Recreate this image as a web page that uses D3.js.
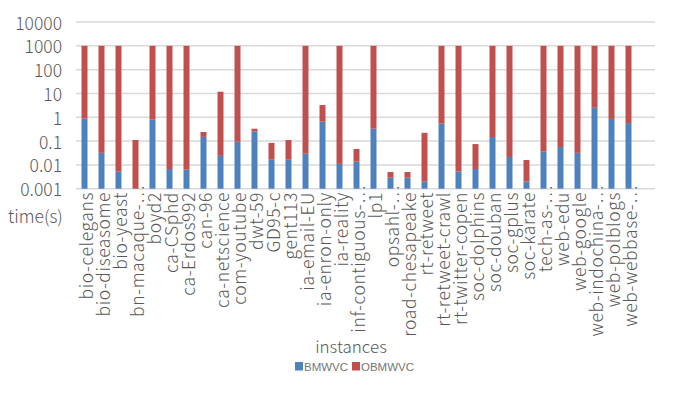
<!DOCTYPE html>
<html><head><meta charset="utf-8">
<script src="https://cdn.jsdelivr.net/npm/d3@7"></script>
<style>body{margin:0;background:#fff}svg{display:block}text{font-family:"Noto Sans CJK SC","Noto Sans",sans-serif;font-weight:300}</style>
</head><body><svg id="c" width="678" height="396"></svg>
<script>
const categories = ["bio-celegans","bio-diseasome","bio-yeast","bn-macaque-…","boyd2","ca-CSphd","ca-Erdos992","can-96","ca-netscience","com-youtube","dwt-59","GD95-c","gent113","ia-email-EU","ia-enron-only","ia-reality","inf-contiguous-…","lp1","opsahl-…","road-chesapeake","rt-retweet","rt-retweet-crawl","rt-twitter-copen","soc-dolphins","soc-douban","soc-gplus","soc-karate","tech-as-…","web-edu","web-google","web-indochina-…","web-polblogs","web-webbase-…"];
const bmwvc = [0.87,0.032,0.0052,0.001,0.79,0.0067,0.0063,0.15,0.024,0.094,0.25,0.0165,0.0165,0.0295,0.65,0.011,0.0136,0.33,0.0029,0.0029,0.002,0.54,0.0052,0.0067,0.148,0.0215,0.002,0.036,0.056,0.032,2.5,0.85,0.57];
const obmwvc = [1000,1000,1000,0.11,1000,1000,1000,0.09,11.8,1000,0.08,0.067,0.094,1000,2.6,1000,0.033,1000,0.0021,0.0021,0.22,1000,1000,0.068,1000,1000,0.014,1000,1000,1000,1000,1000,1000];
const yTicks = [0.001,0.01,0.1,1,10,100,1000,10000];
const seriesNames = ["BMWVC","OBMWVC"];
const colors = ["#4f81bd","#c0504d"];

const svg = d3.select("#c");
const y = d3.scaleLog().domain([0.001,10000]).range([188.7,22]).clamp(true);
const x = d3.scaleBand().domain(categories).range([76,637]).paddingInner(0.647).paddingOuter(0.3235);

svg.append("g").selectAll("line").data(yTicks).join("line")
  .attr("x1",76).attr("x2",655).attr("y1",d=>y(d)).attr("y2",d=>y(d))
  .attr("stroke","#d9d9d9").attr("stroke-width",1.5);

svg.append("g").selectAll("text").data(yTicks).join("text")
  .attr("x",62).attr("y",d=>y(d)).attr("text-anchor","end").attr("dominant-baseline","central")
  .attr("font-size",17.5).attr("fill","#595959").text(d=>String(d));

const rows = categories.map((c,i)=>({cat:c,BMWVC:bmwvc[i],OBMWVC:obmwvc[i]}));
const stack = d3.stack().keys(seriesNames)(rows);
svg.append("g").selectAll("g").data(stack).join("g").attr("fill",(d,i)=>colors[i])
  .selectAll("rect").data(d=>d).join("rect")
  .attr("x",d=>x(d.data.cat)).attr("width",x.bandwidth())
  .attr("y",d=>y(d[1])).attr("height",d=>Math.max(0,y(Math.max(d[0],0.001))-y(d[1])));

svg.append("g").selectAll("text").data(categories).join("text")
  .attr("transform",d=>`translate(${x(d)+x.bandwidth()/2+1},${d.endsWith("…")?185:192}) rotate(-90)`)
  .attr("text-anchor","end").attr("dominant-baseline","central")
  .attr("font-size",17.5).attr("letter-spacing",0.6).attr("fill","#595959").text(d=>d);

svg.append("text").attr("x",8).attr("y",215).attr("dominant-baseline","central").attr("font-size",17.5).attr("fill","#595959").text("time(s)");
svg.append("text").attr("x",351).attr("y",345).attr("dominant-baseline","central").attr("text-anchor","middle").attr("font-size",17).attr("fill","#595959").text("instances");

const lg = svg.append("g").selectAll("g").data(seriesNames).join("g")
  .attr("transform",(d,i)=>`translate(${[295,352][i]},362)`);
lg.append("rect").attr("width",8).attr("height",8.5).attr("fill",(d,i)=>colors[i]);
lg.append("text").attr("x",9).attr("y",4.5).attr("dominant-baseline","central")
  .style("font-family","'Liberation Sans',Arial,sans-serif").style("font-weight",400)
  .attr("font-size",11.5).attr("fill","#767676").text(d=>d);
</script></body></html>
